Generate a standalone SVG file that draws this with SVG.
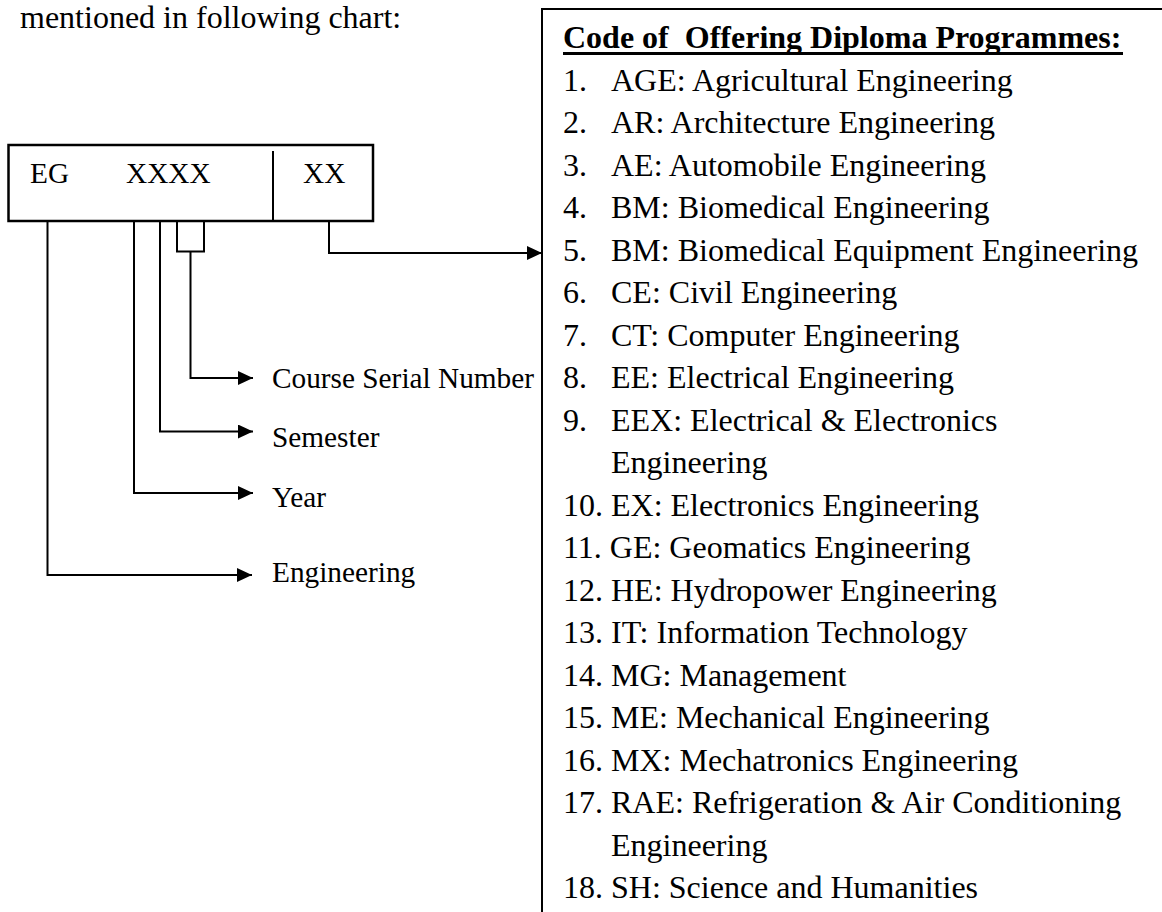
<svg xmlns="http://www.w3.org/2000/svg" width="1162" height="912" viewBox="0 0 1162 912">
<style>
.t{font-family:"Liberation Serif","Times New Roman",serif;fill:#000}
.big{font-size:32px}
.lab{font-size:29.3px}
.ttl{font-size:32px;font-weight:bold;white-space:pre}
.ln{fill:none;stroke:#000;stroke-width:2}
.box{fill:#fff;stroke:#000;stroke-width:2.5}
</style>
<defs>
<marker id="ah" markerUnits="userSpaceOnUse" markerWidth="15" markerHeight="14" refX="15" refY="7" orient="auto">
<path d="M0,0 L15,7 L0,14 Z" fill="#000"/>
</marker>
</defs>
<rect width="1162" height="912" fill="#fff"/>
<text class="t big" x="20" y="28">mentioned in following chart:</text>

<g id="code-box">
<rect class="box" x="8.5" y="145" width="364.5" height="76"/>
<line class="ln" x1="273" y1="151" x2="273" y2="221"/>
<text class="t lab" x="30" y="183">EG</text>
<text class="t lab" x="126" y="183">XXXX</text>
<text class="t lab" x="303" y="183">XX</text>
</g>

<g id="connectors">
<path class="ln" d="M177,221 V251.5 H204 V221"/>
<path class="ln" d="M190.5,251.5 V378 H253" marker-end="url(#ah)"/>
<path class="ln" d="M160,221 V431.5 H253" marker-end="url(#ah)"/>
<path class="ln" d="M134,221 V493 H253" marker-end="url(#ah)"/>
<path class="ln" d="M47.5,221 V575 H252" marker-end="url(#ah)"/>
<path class="ln" d="M329,221 V253 H542" marker-end="url(#ah)"/>
</g>

<g id="label-course"><text class="t lab" x="272" y="388">Course Serial Number</text></g>
<g id="label-semester"><text class="t lab" x="272" y="447">Semester</text></g>
<g id="label-year"><text class="t lab" x="272" y="507">Year</text></g>
<g id="label-engineering"><text class="t lab" x="272" y="582">Engineering</text></g>

<g id="programme-list">
<path class="ln" d="M542,912 V9 H1162" stroke-width="2.5"/>
<text class="t ttl" x="563" y="48">Code of  Offering Diploma Programmes:</text>
<line x1="563" y1="53.5" x2="1123" y2="53.5" stroke="#000" stroke-width="3"/>
<g class="t big">
<text x="563" y="90.5">1.</text><text x="611" y="90.5">AGE: Agricultural Engineering</text>
<text x="563" y="133">2.</text><text x="611" y="133">AR: Architecture Engineering</text>
<text x="563" y="175.5">3.</text><text x="611" y="175.5">AE: Automobile Engineering</text>
<text x="563" y="218">4.</text><text x="611" y="218">BM: Biomedical Engineering</text>
<text x="563" y="260.5">5.</text><text x="611" y="260.5">BM: Biomedical Equipment Engineering</text>
<text x="563" y="303">6.</text><text x="611" y="303">CE: Civil Engineering</text>
<text x="563" y="345.5">7.</text><text x="611" y="345.5">CT: Computer Engineering</text>
<text x="563" y="388">8.</text><text x="611" y="388">EE: Electrical Engineering</text>
<text x="563" y="430.5">9.</text><text x="611" y="430.5">EEX: Electrical &amp; Electronics</text>
<text x="611" y="473">Engineering</text>
<text x="563" y="515.5">10. EX: Electronics Engineering</text>
<text x="563" y="558">11. GE: Geomatics Engineering</text>
<text x="563" y="600.5">12. HE: Hydropower Engineering</text>
<text x="563" y="643">13. IT: Information Technology</text>
<text x="563" y="685.5">14. MG: Management</text>
<text x="563" y="728">15. ME: Mechanical Engineering</text>
<text x="563" y="770.5">16. MX: Mechatronics Engineering</text>
<text x="563" y="813">17. RAE: Refrigeration &amp; Air Conditioning</text>
<text x="611" y="855.5">Engineering</text>
<text x="563" y="898">18. SH: Science and Humanities</text>
</g>
</g>
</svg>
